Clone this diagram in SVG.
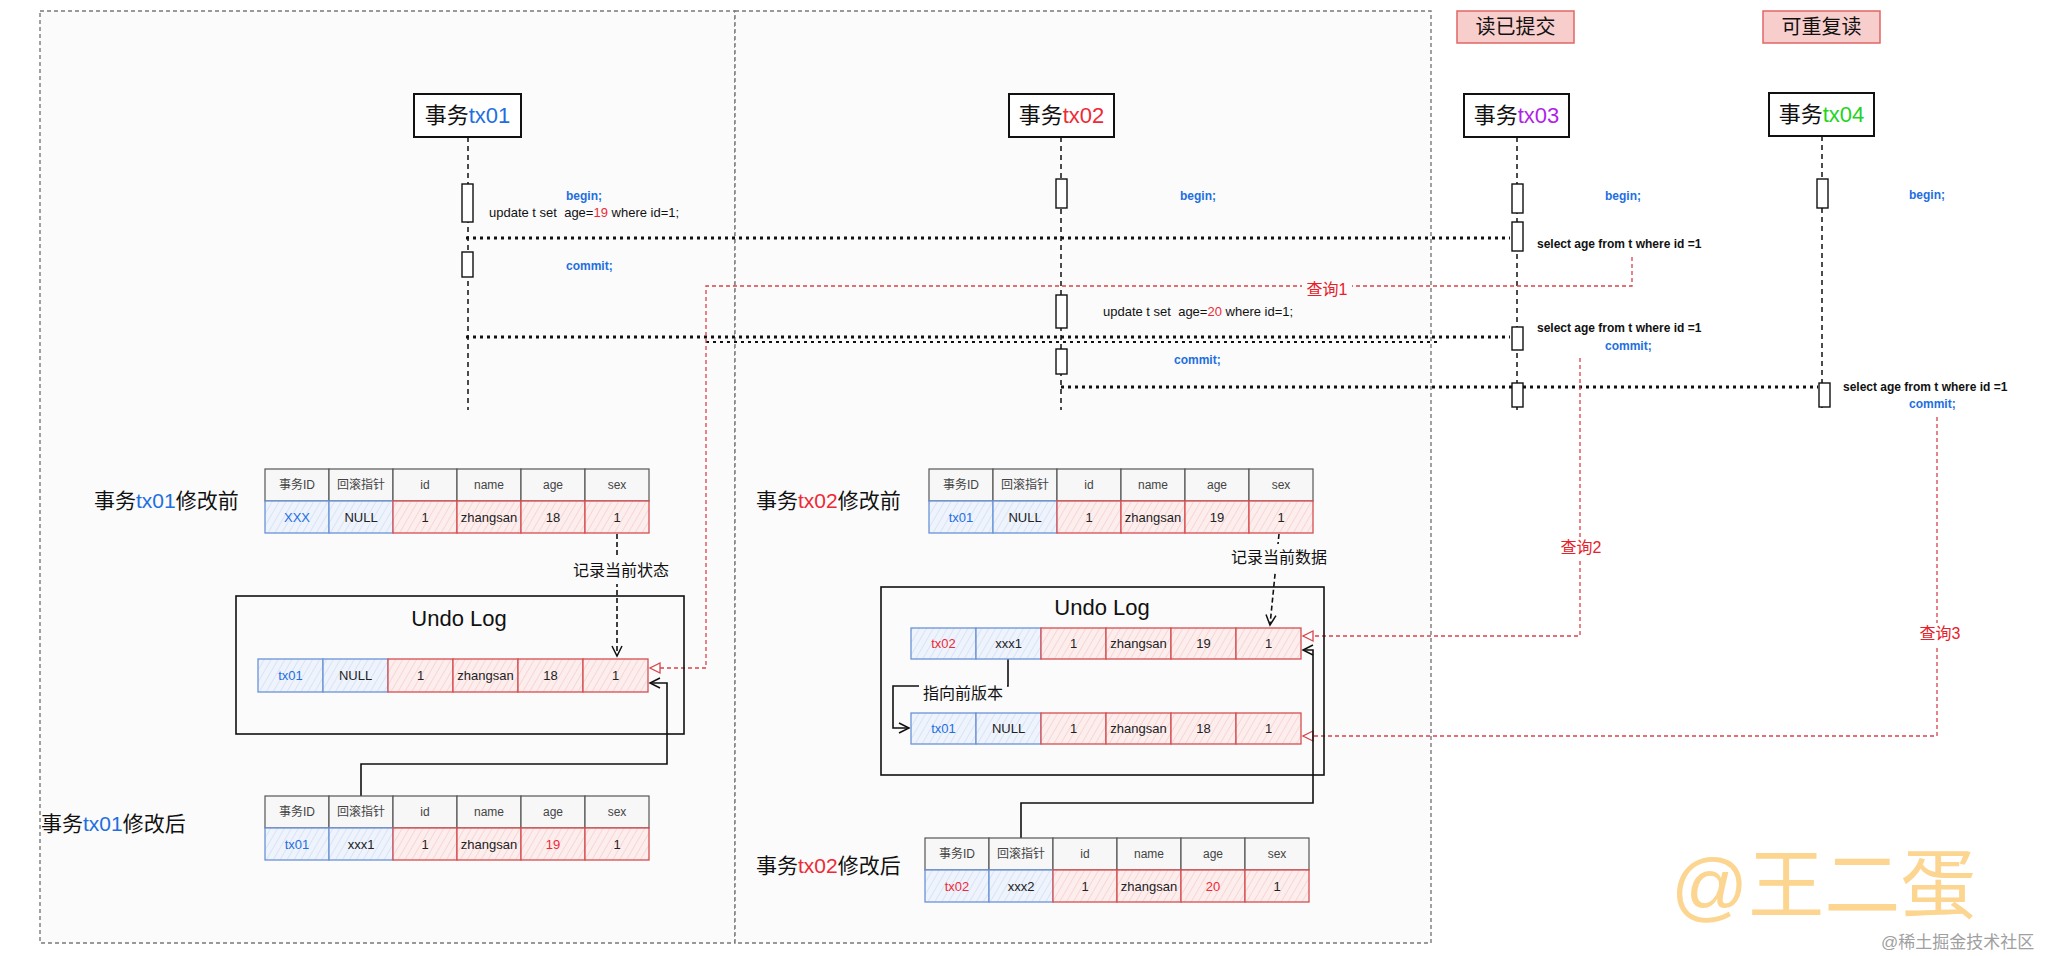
<svg xmlns="http://www.w3.org/2000/svg" width="2048" height="956" viewBox="0 0 2048 956">
<style>
text{font-family:"Liberation Sans","Noto Sans CJK SC",sans-serif;}
.frame{fill:#fbfbfb;stroke:#7a7a7a;stroke-width:1.4;stroke-dasharray:4 3;}
.mode{fill:#f8cecc;stroke:#e06666;stroke-width:1.5;}
.txbox{fill:#fff;stroke:#111;stroke-width:2;}
.act{fill:#fff;stroke:#111;stroke-width:1.4;}
.life{stroke:#111;stroke-width:1.5;stroke-dasharray:5 4;fill:none;}
.msg{stroke:#111;stroke-width:3;stroke-dasharray:3 4;fill:none;}
.msg2{stroke:#111;stroke-width:2;stroke-dasharray:3 4;fill:none;}
.qry{stroke:#d9434a;stroke-width:1.3;stroke-dasharray:4 3;fill:none;}
.ptr{stroke:#111;stroke-width:1.6;fill:none;}
.rec{stroke:#111;stroke-width:1.6;stroke-dasharray:5 3;fill:none;}
.undo{fill:none;stroke:#111;stroke-width:1.6;}
.hd{fill:#f7f7f7;stroke:#555;stroke-width:1.2;}
.bc{fill:url(#hb);stroke:#6a93d6;stroke-width:1.3;}
.rc{fill:url(#hr);stroke:#d64d50;stroke-width:1.3;}
.ht{font-size:12px;fill:#444;text-anchor:middle;}
.ct{font-size:13px;fill:#222;text-anchor:middle;}
.sm{font-size:12px;font-weight:bold;fill:#111;}
.up{font-size:13px;fill:#111;white-space:pre;}
.bl{fill:#1e6fe0;}
.rd{fill:#ee2a36;}
.kw{font-size:12px;font-weight:bold;fill:#1e6fe0;}
.big{font-size:21px;fill:#111;}
.tt{font-size:22px;fill:#111;text-anchor:middle;}
.ql{font-size:16px;fill:#e8202a;text-anchor:middle;}
.lab{font-size:16px;fill:#111;text-anchor:middle;}
</style>
<defs>
<pattern id="hb" patternUnits="userSpaceOnUse" width="6" height="6" patternTransform="rotate(30)">
<rect width="6" height="6" fill="#eef3fc"/>
<line x1="0" y1="0" x2="0" y2="6" stroke="#c4d5f2" stroke-width="1"/>
</pattern>
<pattern id="hr" patternUnits="userSpaceOnUse" width="6" height="6" patternTransform="rotate(30)">
<rect width="6" height="6" fill="#fdeeee"/>
<line x1="0" y1="0" x2="0" y2="6" stroke="#f3bcbc" stroke-width="1"/>
</pattern>
<marker id="ab" markerUnits="userSpaceOnUse" markerWidth="14" markerHeight="14" refX="11" refY="6" orient="auto">
<path d="M1,1 L11,6 L1,11" fill="none" stroke="#111" stroke-width="1.5"/>
</marker>
<marker id="ar" markerUnits="userSpaceOnUse" markerWidth="14" markerHeight="14" refX="11" refY="6" orient="auto">
<path d="M1,1 L11,6 L1,11 Z" fill="#fff" stroke="#d9434a" stroke-width="1.3"/>
</marker>
</defs>
<rect width="2048" height="956" fill="#fff"/>

<g id="frames">
<rect class="frame" x="40" y="11" width="695" height="932"/>
<rect class="frame" x="735" y="11" width="696" height="932"/>
</g>

<g id="mode-rc"><rect class="mode" x="1457" y="11" width="117" height="32"/><text x="1515.5" y="34" font-size="20" text-anchor="middle" fill="#111">读已提交</text></g>
<g id="mode-rr"><rect class="mode" x="1763" y="11" width="117" height="32"/><text x="1821.5" y="34" font-size="20" text-anchor="middle" fill="#111">可重复读</text></g>

<g id="connectors">
<path class="life" d="M468,137 V410"/>
<path class="life" d="M1061,137 V410"/>
<path class="life" d="M1517,137 V410"/>
<path class="life" d="M1822,136 V408"/>
<path class="msg" d="M466,238 H1510"/>
<path class="msg" d="M466,337 H1510"/>
<path class="msg2" d="M706,342 H1437"/>
<path class="msg" d="M1061,387 H1818"/>
<path class="qry" d="M1632,257 V286 H706 V668 H650" marker-end="url(#ar)"/>
<path class="qry" d="M1580,358 V636 H1303" marker-end="url(#ar)"/>
<path class="qry" d="M1937,417 V736 H1303" marker-end="url(#ar)"/>
<path class="rec" d="M617,534 V656" marker-end="url(#ab)"/>
<path class="rec" d="M1279,534 L1270,625" marker-end="url(#ab)"/>
<path class="ptr" d="M361,796 V764 H667 V683 H650" marker-end="url(#ab)"/>
<path class="ptr" d="M1021,838 V803 H1313 V650 H1303" marker-end="url(#ab)"/>
<path class="ptr" d="M1008,659 V686 H893 V728 H909" marker-end="url(#ab)"/>
<rect x="1302" y="278" width="50" height="20" fill="#fbfbfb"/>
<text class="ql" x="1327" y="295">查询1</text>
<rect x="1556" y="537" width="50" height="22" fill="#fff"/>
<text class="ql" x="1581" y="553">查询2</text>
<rect x="1914" y="623" width="50" height="22" fill="#fff"/>
<text class="ql" x="1940" y="639">查询3</text>
<rect x="570" y="556" width="102" height="28" fill="#fbfbfb"/>
<text class="lab" x="621" y="576">记录当前状态</text>
<rect x="1227" y="544" width="104" height="28" fill="#fbfbfb"/>
<text class="lab" x="1279" y="563">记录当前数据</text>
<rect x="919" y="681" width="88" height="22" fill="#fbfbfb"/>
<text class="lab" x="963" y="699">指向前版本</text>
</g>

<g id="tx01">
<rect class="txbox" x="414" y="94" width="107" height="43"/>
<text class="tt" x="467.5" y="123">事务<tspan class="bl">tx01</tspan></text>
<rect class="act" x="462" y="184" width="11" height="38"/>
<rect class="act" x="462" y="252" width="11" height="25"/>
<text class="kw" x="566" y="200">begin;</text>
<text class="up" x="489" y="217" xml:space="preserve">update t set  age=<tspan class="rd">19</tspan> where id=1;</text>
<text class="kw" x="566" y="270">commit;</text>
</g>

<g id="tx02">
<rect class="txbox" x="1009" y="94" width="105" height="43"/>
<text class="tt" x="1061.5" y="123">事务<tspan class="rd">tx02</tspan></text>
<rect class="act" x="1056" y="179" width="11" height="29"/>
<rect class="act" x="1056" y="295" width="11" height="33"/>
<rect class="act" x="1056" y="349" width="11" height="25"/>
<text class="kw" x="1180" y="200">begin;</text>
<text class="up" x="1103" y="316" xml:space="preserve">update t set  age=<tspan class="rd">20</tspan> where id=1;</text>
<text class="kw" x="1174" y="364">commit;</text>
</g>

<g id="tx03">
<rect class="txbox" x="1464" y="94" width="105" height="43"/>
<text class="tt" x="1516.5" y="123">事务<tspan fill="#b11fe8">tx03</tspan></text>
<rect class="act" x="1512" y="184" width="11" height="29"/>
<rect class="act" x="1512" y="222" width="11" height="29"/>
<rect class="act" x="1512" y="327" width="11" height="23"/>
<rect class="act" x="1512" y="383" width="11" height="24"/>
<text class="kw" x="1605" y="200">begin;</text>
<text class="sm" x="1537" y="248">select age from t where id =1</text>
<text class="sm" x="1537" y="332">select age from t where id =1</text>
<text class="kw" x="1605" y="350">commit;</text>
</g>

<g id="tx04">
<rect class="txbox" x="1769" y="93" width="105" height="43"/>
<text class="tt" x="1821.5" y="122">事务<tspan fill="#22d322">tx04</tspan></text>
<rect class="act" x="1817" y="179" width="11" height="29"/>
<rect class="act" x="1819" y="383" width="11" height="24"/>
<text class="kw" x="1909" y="199">begin;</text>
<text class="sm" x="1843" y="391">select age from t where id =1</text>
<text class="kw" x="1909" y="408">commit;</text>
</g>

<g id="tx01-before">
<text class="big" x="94" y="508">事务<tspan class="bl">tx01</tspan>修改前</text>
<rect class="hd" x="265" y="469" width="64" height="32"/><rect class="hd" x="329" y="469" width="64" height="32"/><rect class="hd" x="393" y="469" width="64" height="32"/><rect class="hd" x="457" y="469" width="64" height="32"/><rect class="hd" x="521" y="469" width="64" height="32"/><rect class="hd" x="585" y="469" width="64" height="32"/>
<text class="ht" x="297" y="489">事务ID</text><text class="ht" x="361" y="489">回滚指针</text><text class="ht" x="425" y="489">id</text><text class="ht" x="489" y="489">name</text><text class="ht" x="553" y="489">age</text><text class="ht" x="617" y="489">sex</text>
<rect class="bc" x="265" y="501" width="64" height="32"/><rect class="bc" x="329" y="501" width="64" height="32"/><rect class="rc" x="393" y="501" width="64" height="32"/><rect class="rc" x="457" y="501" width="64" height="32"/><rect class="rc" x="521" y="501" width="64" height="32"/><rect class="rc" x="585" y="501" width="64" height="32"/>
<text class="ct bl" x="297" y="522">XXX</text><text class="ct" x="361" y="522">NULL</text><text class="ct" x="425" y="522">1</text><text class="ct" x="489" y="522">zhangsan</text><text class="ct" x="553" y="522">18</text><text class="ct" x="617" y="522">1</text>
</g>

<g id="undo-log-1">
<rect class="undo" x="236" y="596" width="448" height="138"/>
<text class="tt" x="459" y="626">Undo Log</text>
<rect class="bc" x="258" y="659" width="65" height="33"/><rect class="bc" x="323" y="659" width="65" height="33"/><rect class="rc" x="388" y="659" width="65" height="33"/><rect class="rc" x="453" y="659" width="65" height="33"/><rect class="rc" x="518" y="659" width="65" height="33"/><rect class="rc" x="583" y="659" width="65" height="33"/>
<text class="ct bl" x="290.5" y="680">tx01</text><text class="ct" x="355.5" y="680">NULL</text><text class="ct" x="420.5" y="680">1</text><text class="ct" x="485.5" y="680">zhangsan</text><text class="ct" x="550.5" y="680">18</text><text class="ct" x="615.5" y="680">1</text>
</g>

<g id="tx01-after">
<text class="big" x="41" y="831">事务<tspan class="bl">tx01</tspan>修改后</text>
<rect class="hd" x="265" y="796" width="64" height="32"/><rect class="hd" x="329" y="796" width="64" height="32"/><rect class="hd" x="393" y="796" width="64" height="32"/><rect class="hd" x="457" y="796" width="64" height="32"/><rect class="hd" x="521" y="796" width="64" height="32"/><rect class="hd" x="585" y="796" width="64" height="32"/>
<text class="ht" x="297" y="816">事务ID</text><text class="ht" x="361" y="816">回滚指针</text><text class="ht" x="425" y="816">id</text><text class="ht" x="489" y="816">name</text><text class="ht" x="553" y="816">age</text><text class="ht" x="617" y="816">sex</text>
<rect class="bc" x="265" y="828" width="64" height="32"/><rect class="bc" x="329" y="828" width="64" height="32"/><rect class="rc" x="393" y="828" width="64" height="32"/><rect class="rc" x="457" y="828" width="64" height="32"/><rect class="rc" x="521" y="828" width="64" height="32"/><rect class="rc" x="585" y="828" width="64" height="32"/>
<text class="ct bl" x="297" y="849">tx01</text><text class="ct" x="361" y="849">xxx1</text><text class="ct" x="425" y="849">1</text><text class="ct" x="489" y="849">zhangsan</text><text class="ct rd" x="553" y="849">19</text><text class="ct" x="617" y="849">1</text>
</g>

<g id="tx02-before">
<text class="big" x="756" y="508">事务<tspan class="rd">tx02</tspan>修改前</text>
<rect class="hd" x="929" y="469" width="64" height="32"/><rect class="hd" x="993" y="469" width="64" height="32"/><rect class="hd" x="1057" y="469" width="64" height="32"/><rect class="hd" x="1121" y="469" width="64" height="32"/><rect class="hd" x="1185" y="469" width="64" height="32"/><rect class="hd" x="1249" y="469" width="64" height="32"/>
<text class="ht" x="961" y="489">事务ID</text><text class="ht" x="1025" y="489">回滚指针</text><text class="ht" x="1089" y="489">id</text><text class="ht" x="1153" y="489">name</text><text class="ht" x="1217" y="489">age</text><text class="ht" x="1281" y="489">sex</text>
<rect class="bc" x="929" y="501" width="64" height="32"/><rect class="bc" x="993" y="501" width="64" height="32"/><rect class="rc" x="1057" y="501" width="64" height="32"/><rect class="rc" x="1121" y="501" width="64" height="32"/><rect class="rc" x="1185" y="501" width="64" height="32"/><rect class="rc" x="1249" y="501" width="64" height="32"/>
<text class="ct bl" x="961" y="522">tx01</text><text class="ct" x="1025" y="522">NULL</text><text class="ct" x="1089" y="522">1</text><text class="ct" x="1153" y="522">zhangsan</text><text class="ct" x="1217" y="522">19</text><text class="ct" x="1281" y="522">1</text>
</g>

<g id="undo-log-2">
<rect class="undo" x="881" y="587" width="443" height="188"/>
<text class="tt" x="1102" y="615">Undo Log</text>
<rect class="bc" x="911" y="628" width="65" height="31"/><rect class="bc" x="976" y="628" width="65" height="31"/><rect class="rc" x="1041" y="628" width="65" height="31"/><rect class="rc" x="1106" y="628" width="65" height="31"/><rect class="rc" x="1171" y="628" width="65" height="31"/><rect class="rc" x="1236" y="628" width="65" height="31"/>
<text class="ct rd" x="943.5" y="648">tx02</text><text class="ct" x="1008.5" y="648">xxx1</text><text class="ct" x="1073.5" y="648">1</text><text class="ct" x="1138.5" y="648">zhangsan</text><text class="ct" x="1203.5" y="648">19</text><text class="ct" x="1268.5" y="648">1</text>
<rect class="bc" x="911" y="713" width="65" height="31"/><rect class="bc" x="976" y="713" width="65" height="31"/><rect class="rc" x="1041" y="713" width="65" height="31"/><rect class="rc" x="1106" y="713" width="65" height="31"/><rect class="rc" x="1171" y="713" width="65" height="31"/><rect class="rc" x="1236" y="713" width="65" height="31"/>
<text class="ct bl" x="943.5" y="733">tx01</text><text class="ct" x="1008.5" y="733">NULL</text><text class="ct" x="1073.5" y="733">1</text><text class="ct" x="1138.5" y="733">zhangsan</text><text class="ct" x="1203.5" y="733">18</text><text class="ct" x="1268.5" y="733">1</text>
</g>

<g id="tx02-after">
<text class="big" x="756" y="873">事务<tspan class="rd">tx02</tspan>修改后</text>
<rect class="hd" x="925" y="838" width="64" height="32"/><rect class="hd" x="989" y="838" width="64" height="32"/><rect class="hd" x="1053" y="838" width="64" height="32"/><rect class="hd" x="1117" y="838" width="64" height="32"/><rect class="hd" x="1181" y="838" width="64" height="32"/><rect class="hd" x="1245" y="838" width="64" height="32"/>
<text class="ht" x="957" y="858">事务ID</text><text class="ht" x="1021" y="858">回滚指针</text><text class="ht" x="1085" y="858">id</text><text class="ht" x="1149" y="858">name</text><text class="ht" x="1213" y="858">age</text><text class="ht" x="1277" y="858">sex</text>
<rect class="bc" x="925" y="870" width="64" height="32"/><rect class="bc" x="989" y="870" width="64" height="32"/><rect class="rc" x="1053" y="870" width="64" height="32"/><rect class="rc" x="1117" y="870" width="64" height="32"/><rect class="rc" x="1181" y="870" width="64" height="32"/><rect class="rc" x="1245" y="870" width="64" height="32"/>
<text class="ct rd" x="957" y="891">tx02</text><text class="ct" x="1021" y="891">xxx2</text><text class="ct" x="1085" y="891">1</text><text class="ct" x="1149" y="891">zhangsan</text><text class="ct rd" x="1213" y="891">20</text><text class="ct" x="1277" y="891">1</text>
</g>

<g id="watermark">
<text x="1671" y="912" font-size="76" fill="#fcd590">@王二蛋</text>
<text x="1881" y="948" font-size="17" fill="#a0a0a0">@稀土掘金技术社区</text>
</g>
</svg>
